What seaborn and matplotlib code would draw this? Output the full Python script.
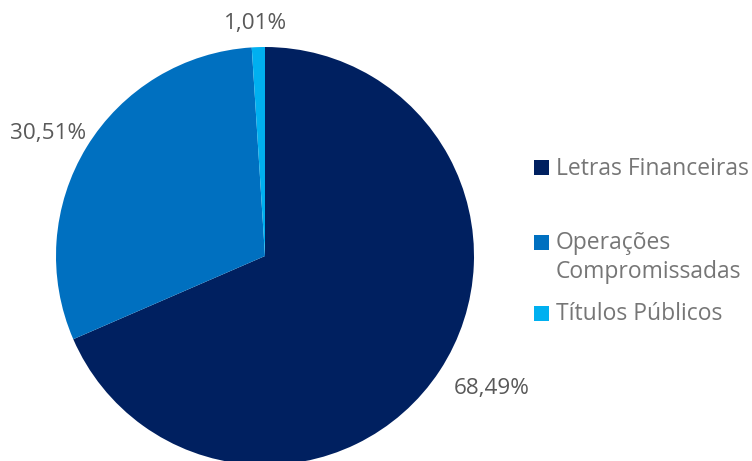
import matplotlib.pyplot as plt
import matplotlib.transforms as mtransforms
import seaborn as sns
import numpy as np
from matplotlib.patches import Rectangle

categories = ['Letras Financeiras', 'Operações\nCompromissadas', 'Títulos Públicos']
shares = [68.49, 30.51, 1.01]
pct_labels = ['68,49%', '30,51%', '1,01%']
colors = ['#002060', '#0070C0', '#00B0F0']

# label placement (distance from centre in radii, angle nudge in degrees)
label_dist = [1.25, 1.20, 1.125]
label_nudge = [3.5, 1.5, 0.6]

sns.set_theme(style='white')
plt.rcParams['font.family'] = ['Open Sans', 'DejaVu Sans']

fig = plt.figure(figsize=(7.52, 4.61), dpi=100)
ax = fig.add_axes([56 / 752, -4 / 461, 418 / 752, 418 / 461])

wedges, _ = ax.pie(shares, colors=colors, startangle=90, counterclock=False,
                   wedgeprops=dict(linewidth=0))
ax.set_xlim(-1, 1)
ax.set_ylim(-1, 1)
ax.set_aspect('equal')
ax.axis('off')

# small downward shift so the text sits like the original
lab_trans = mtransforms.offset_copy(ax.transData, fig=fig, y=-2.5, units='dots')
for w, txt, d, nudge in zip(wedges, pct_labels, label_dist, label_nudge):
    mid = np.deg2rad((w.theta1 + w.theta2) / 2 + nudge)
    ax.text(d * np.cos(mid), d * np.sin(mid), txt, ha='center', va='center',
            fontsize=16.2, color='#595959', clip_on=False, transform=lab_trans)

# legend drawn by hand so the marker sits on the first line of a wrapped label
legend_y = [168, 242, 313]
line_gap = 29
for lab, col, y in zip(categories, colors, legend_y):
    fig.patches.append(Rectangle((534 / 752, 1 - (y + 7.5) / 461), 15 / 752, 15 / 461,
                                 transform=fig.transFigure, facecolor=col,
                                 edgecolor='none'))
    for i, line in enumerate(lab.split('\n')):
        fig.text(556 / 752, 1 - (y + 1 + i * line_gap) / 461, line, ha='left',
                 va='center', fontsize=16.5, color='#767676')

fig.savefig('out.png', dpi=100)
